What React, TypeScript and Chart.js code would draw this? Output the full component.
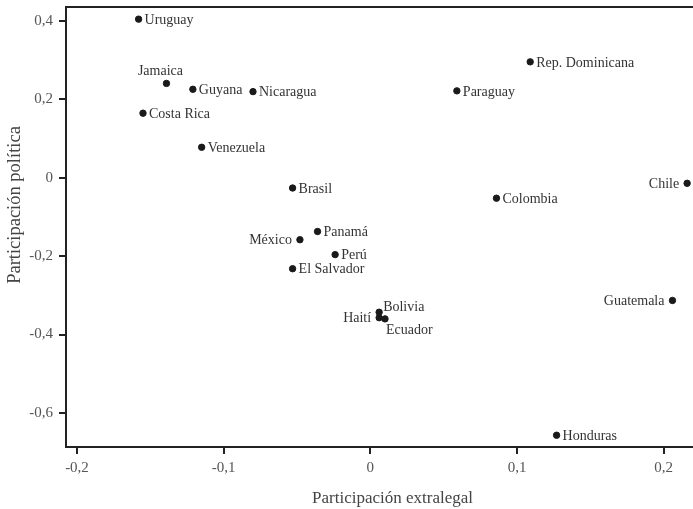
import React, { useEffect, useRef } from "react";
import { Chart, registerables } from "chart.js";

Chart.register(...registerables);

const countries = ["Uruguay", "Jamaica", "Guyana", "Nicaragua", "Costa Rica", "Venezuela", "Rep. Dominicana", "Paraguay", "Chile", "Colombia", "Brasil", "Panamá", "México", "Perú", "El Salvador", "Bolivia", "Haití", "Ecuador", "Guatemala", "Honduras"];
const extralegal = [-0.158, -0.139, -0.121, -0.080, -0.155, -0.115, 0.109, 0.059, 0.216, 0.086, -0.053, -0.036, -0.048, -0.024, -0.053, 0.006, 0.006, 0.010, 0.206, 0.127];
const politica = [0.405, 0.241, 0.226, 0.220, 0.165, 0.078, 0.296, 0.222, -0.014, -0.052, -0.026, -0.137, -0.158, -0.196, -0.232, -0.343, -0.357, -0.360, -0.313, -0.657];
const labelSide = ["right", "top", "right", "right", "right", "right", "right", "right", "left", "right", "right", "right", "left", "right", "right", "upright", "left", "downright", "left", "right"];

const xTicks = [-0.2, -0.1, 0, 0.1, 0.2];
const xTickLabels = ["-0,2", "-0,1", "0", "0,1", "0,2"];
const yTicks = [0.4, 0.2, 0, -0.2, -0.4, -0.6];
const yTickLabels = ["0,4", "0,2", "0", "-0,2", "-0,4", "-0,6"];

const xTitle = "Participación extralegal";
const yTitle = "Participación política";

const FONT = "'Liberation Serif', 'DejaVu Serif', serif";

const labelPlugin = {
  id: "pointLabels",
  afterDatasetsDraw(chart: any) {
    const ctx = chart.ctx;
    const meta = chart.getDatasetMeta(0);
    ctx.save();
    ctx.font = `14px ${FONT}`;
    ctx.fillStyle = "#333";
    meta.data.forEach((el: any, i: number) => {
      const x = el.x;
      const y = el.y;
      const side = labelSide[i];
      const t = countries[i];
      if (side === "right") {
        ctx.textAlign = "left";
        ctx.textBaseline = "middle";
        ctx.fillText(t, x + 6, y + 1);
      } else if (side === "left") {
        ctx.textAlign = "right";
        ctx.textBaseline = "middle";
        ctx.fillText(t, x - 8, y + 1);
      } else if (side === "top") {
        ctx.textAlign = "center";
        ctx.textBaseline = "bottom";
        ctx.fillText(t, x - 6, y - 5);
      } else if (side === "upright") {
        ctx.textAlign = "left";
        ctx.textBaseline = "middle";
        ctx.fillText(t, x + 4, y - 5);
      } else if (side === "downright") {
        ctx.textAlign = "left";
        ctx.textBaseline = "top";
        ctx.fillText(t, x + 1, y + 4);
      }
    });
    ctx.restore();
  },
  afterDraw(chart: any) {
    const { ctx, chartArea } = chart;
    ctx.save();
    ctx.strokeStyle = "#222";
    ctx.lineWidth = 2;
    ctx.beginPath();
    ctx.moveTo(chartArea.left - 1, chartArea.top);
    ctx.lineTo(chartArea.right, chartArea.top);
    ctx.stroke();

    // axis titles
    ctx.fillStyle = "#444";
    ctx.textAlign = "center";
    ctx.textBaseline = "alphabetic";
    ctx.font = `17px ${FONT}`;
    ctx.fillText(xTitle, (chartArea.left + chartArea.right) / 2 + 13, chart.height - 6);
    ctx.font = `18.5px ${FONT}`;
    ctx.translate(20, (chartArea.top + chartArea.bottom) / 2 - 22);
    ctx.rotate(-Math.PI / 2);
    ctx.fillText(yTitle, 0, 0);
    ctx.restore();
  },
};

export default function App() {
  const ref = useRef<HTMLCanvasElement | null>(null);
  useEffect(() => {
    if (!ref.current) return;
    const chart = new Chart(ref.current, {
      type: "scatter",
      data: {
        datasets: [
          {
            data: extralegal.map((x, i) => ({ x, y: politica[i] })),
            backgroundColor: "#1a1a1a",
            borderColor: "#1a1a1a",
            pointRadius: 3.2,
            pointHoverRadius: 3.2,
          },
        ],
      },
      options: {
        responsive: false,
        animation: false,
        devicePixelRatio: 1,
        layout: { autoPadding: false, padding: { top: 7, left: 0, right: 0, bottom: 0 } },
        plugins: { legend: { display: false }, tooltip: { enabled: false } },
        scales: {
          x: {
            type: "linear",
            min: -0.2075,
            max: 0.22,
            afterBuildTicks: (s: any) => {
              s.ticks = xTicks.map((v) => ({ value: v }));
            },
            afterFit: (s: any) => {
              s.height = 62;
              s.paddingLeft = 0;
              s.paddingRight = 0;
            },
            ticks: {
              callback: (v: any) => {
                const i = xTicks.findIndex((t) => Math.abs(t - v) < 1e-9);
                return i >= 0 ? xTickLabels[i] : "";
              },
              font: { family: FONT, size: 15 },
              color: "#555",
              padding: 5,
              maxRotation: 0,
            },
            grid: { drawOnChartArea: false, tickLength: 7, color: "#222", lineWidth: 2 },
            border: { display: true, color: "#222", width: 2 },
          },
          y: {
            type: "linear",
            min: -0.687,
            max: 0.436,
            afterBuildTicks: (s: any) => {
              s.ticks = yTicks.map((v) => ({ value: v }));
            },
            afterFit: (s: any) => {
              s.width = 66;
              s.paddingTop = 0;
              s.paddingBottom = 0;
            },
            ticks: {
              callback: (v: any) => {
                const i = yTicks.findIndex((t) => Math.abs(t - v) < 1e-9);
                return i >= 0 ? yTickLabels[i] : "";
              },
              font: { family: FONT, size: 15 },
              color: "#555",
              padding: 6,
            },
            grid: { drawOnChartArea: false, tickLength: 7, color: "#222", lineWidth: 2 },
            border: { display: true, color: "#222", width: 2 },
          },
        },
      },
      plugins: [labelPlugin],
    });
    return () => chart.destroy();
  }, []);
  return (
    <div style={{ position: "absolute", left: 0, top: 0, width: 693, height: 509, background: "#fff" }}>
      <canvas ref={ref} width={693} height={509} />
    </div>
  );
}
